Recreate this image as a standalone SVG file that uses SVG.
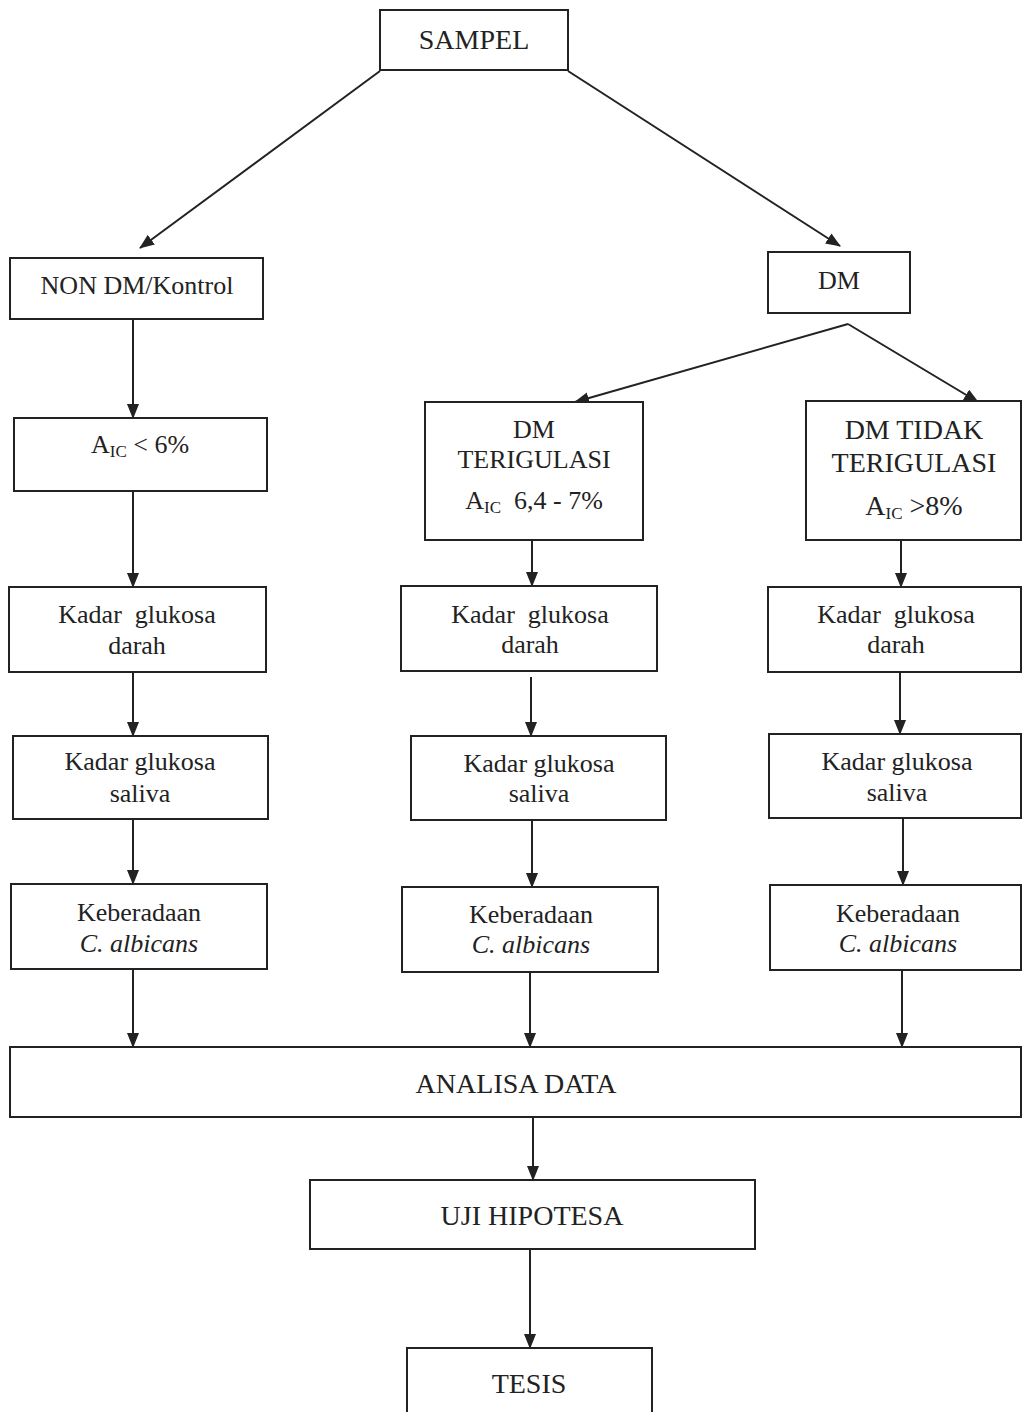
<svg xmlns="http://www.w3.org/2000/svg" width="1023" height="1412" viewBox="0 0 1023 1412">
<style>
.box{fill:#fff;stroke:#222;stroke-width:2}
.t{font-family:"Liberation Serif","Times New Roman",serif;font-size:26px;fill:#222;text-anchor:middle}
.big{font-size:28px}
.it{font-style:italic}
.sub{font-size:17px}
.c{stroke:#222;stroke-width:2;fill:none;marker-end:url(#ah)}
</style>
<defs>
<marker id="ah" markerUnits="userSpaceOnUse" markerWidth="15" markerHeight="12" refX="14" refY="6" orient="auto">
<path d="M0,0 L15,6 L0,12 z" fill="#222"/>
</marker>
</defs>
<rect width="1023" height="1412" fill="#fff"/>
<g id="connectors">
<line class="c" x1="380" y1="71" x2="140" y2="248"/>
<line class="c" x1="568" y1="71" x2="840" y2="246"/>
<line class="c" x1="133" y1="319" x2="133" y2="418"/>
<line class="c" x1="133" y1="491" x2="133" y2="587"/>
<line class="c" x1="133" y1="672" x2="133" y2="736"/>
<line class="c" x1="133" y1="819" x2="133" y2="884"/>
<line class="c" x1="133" y1="969" x2="133" y2="1047"/>
<line class="c" x1="848" y1="324" x2="575" y2="402"/>
<line class="c" x1="848" y1="324" x2="978" y2="402"/>
<line class="c" x1="532" y1="540" x2="532" y2="586"/>
<line class="c" x1="531" y1="677" x2="531" y2="736"/>
<line class="c" x1="532" y1="820" x2="532" y2="887"/>
<line class="c" x1="530" y1="972" x2="530" y2="1047"/>
<line class="c" x1="901" y1="540" x2="901" y2="587"/>
<line class="c" x1="900" y1="665" x2="900" y2="734"/>
<line class="c" x1="903" y1="818" x2="903" y2="885"/>
<line class="c" x1="902" y1="970" x2="902" y2="1047"/>
<line class="c" x1="533" y1="1117" x2="533" y2="1180"/>
<line class="c" x1="530" y1="1249" x2="530" y2="1348"/>
</g>
<g id="sampel"><rect class="box" x="380" y="10" width="188" height="60"/><text class="t big" x="474" y="49">SAMPEL</text></g>
<g id="nondm"><rect class="box" x="10" y="258" width="253" height="61"/><text class="t" x="137" y="294">NON DM/Kontrol</text></g>
<g id="dm"><rect class="box" x="768" y="252" width="142" height="61"/><text class="t" x="839" y="289">DM</text></g>
<g id="a1c"><rect class="box" x="14" y="418" width="253" height="73"/><text class="t" x="140" y="453">A<tspan class="sub" dy="4">IC</tspan><tspan dy="-4"> &lt; 6%</tspan></text></g>
<g id="dmter"><rect class="box" x="425" y="402" width="218" height="138"/>
<text class="t" x="534" y="438">DM</text>
<text class="t" x="534" y="468">TERIGULASI</text>
<text class="t" x="534" y="509" xml:space="preserve">A<tspan class="sub" dy="4">IC</tspan><tspan dy="-4">  6,4 - 7%</tspan></text></g>
<g id="dmtidak"><rect class="box" x="806" y="401" width="215" height="139"/>
<text class="t big" x="914" y="439">DM TIDAK</text>
<text class="t big" x="914" y="472">TERIGULASI</text>
<text class="t big" x="914" y="515">A<tspan class="sub" dy="4">IC</tspan><tspan dy="-4"> &gt;8%</tspan></text></g>
<g id="darah1"><rect class="box" x="9" y="587" width="257" height="85"/><text class="t" x="137" y="623" xml:space="preserve">Kadar  glukosa</text><text class="t" x="137" y="654">darah</text></g>
<g id="saliva1"><rect class="box" x="13" y="736" width="255" height="83"/><text class="t" x="140" y="770">Kadar glukosa</text><text class="t" x="140" y="802">saliva</text></g>
<g id="kbr1"><rect class="box" x="11" y="884" width="256" height="85"/><text class="t" x="139" y="921">Keberadaan</text><text class="t it" x="139" y="952">C. albicans</text></g>
<g id="darah2"><rect class="box" x="401" y="586" width="256" height="85"/><text class="t" x="530" y="623" xml:space="preserve">Kadar  glukosa</text><text class="t" x="530" y="653">darah</text></g>
<g id="saliva2"><rect class="box" x="411" y="736" width="255" height="84"/><text class="t" x="539" y="772">Kadar glukosa</text><text class="t" x="539" y="802">saliva</text></g>
<g id="kbr2"><rect class="box" x="402" y="887" width="256" height="85"/><text class="t" x="531" y="923">Keberadaan</text><text class="t it" x="531" y="953">C. albicans</text></g>
<g id="darah3"><rect class="box" x="768" y="587" width="253" height="85"/><text class="t" x="896" y="623" xml:space="preserve">Kadar  glukosa</text><text class="t" x="896" y="653">darah</text></g>
<g id="saliva3"><rect class="box" x="769" y="734" width="252" height="84"/><text class="t" x="897" y="770">Kadar glukosa</text><text class="t" x="897" y="801">saliva</text></g>
<g id="kbr3"><rect class="box" x="770" y="885" width="251" height="85"/><text class="t" x="898" y="922">Keberadaan</text><text class="t it" x="898" y="952">C. albicans</text></g>
<g id="analisa"><rect class="box" x="10" y="1047" width="1011" height="70"/><text class="t big" x="516" y="1093">ANALISA DATA</text></g>
<g id="uji"><rect class="box" x="310" y="1180" width="445" height="69"/><text class="t big" x="532" y="1225">UJI HIPOTESA</text></g>
<g id="tesis"><rect class="box" x="407" y="1348" width="245" height="80"/><text class="t big" x="529" y="1393">TESIS</text></g>
</svg>
